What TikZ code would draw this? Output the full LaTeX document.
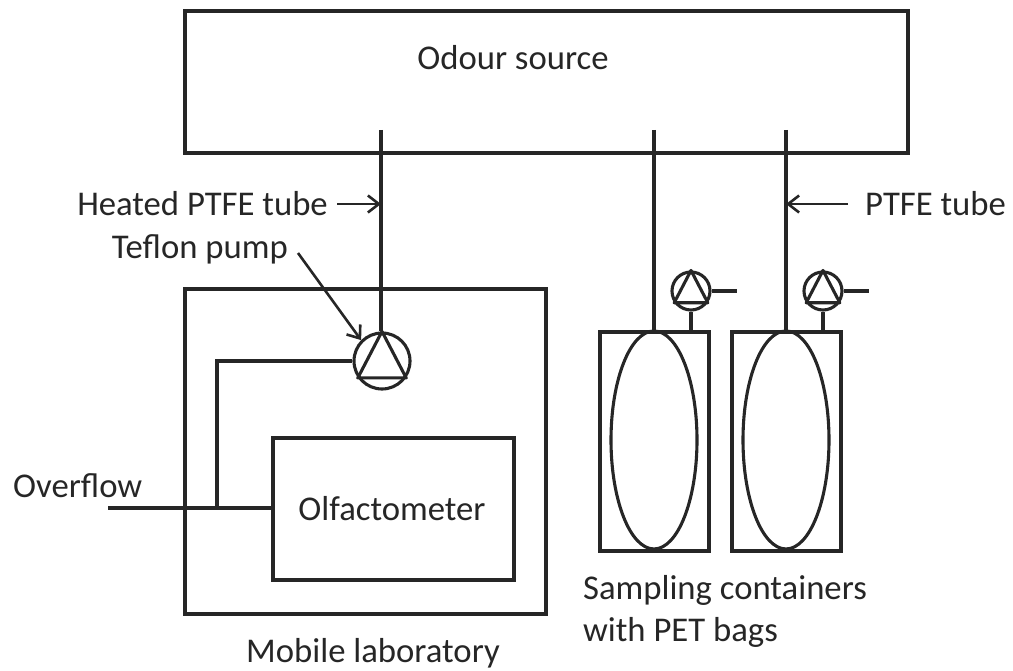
\documentclass[tikz,border=0pt]{standalone}
\usepackage{fontspec}
\setmainfont{Carlito}
\usetikzlibrary{arrows.meta}
\tikzset{
  tube/.style={line width=3.1pt, draw=black!85},
  lead/.style={line width=2.6pt, draw=black!85, -{Straight Barb[length=11pt,width=17pt,line width=2.6pt]}},
  boxnode/.style={line width=3.6pt, draw=black!85, rectangle, inner sep=0pt, anchor=north west},
  pumpnode/.style={tube, circle, inner sep=0pt},
  labelnode/.style={inner sep=0pt, text=black!85, font=\fontsize{34.7}{42}\selectfont},
}
\begin{document}
\begin{tikzpicture}[x=1pt, y=-1pt]
\useasboundingbox (0,0) rectangle (1013,671);
% boxes
\node[boxnode, minimum width=723pt, minimum height=142pt] (source) at (183,9) {};
\node[boxnode, minimum width=361pt, minimum height=325pt] (lab) at (183,287) {};
\node[boxnode, minimum width=241pt, minimum height=142pt] (olf) at (271,436) {};
\node[boxnode, minimum width=109pt, minimum height=219pt] (boxa) at (598,330) {};
\node[boxnode, minimum width=109pt, minimum height=219pt] (boxb) at (730,330) {};
\draw[tube] (654,440) ellipse (43 and 109);
\draw[tube] (786,440) ellipse (43 and 109);
% pumps
\node[pumpnode, minimum size=56pt] (pump) at (382,361) {};
\node[pumpnode, minimum size=38pt] (pumpa) at (691,291) {};
\node[pumpnode, minimum size=38pt] (pumpb) at (823,291) {};
\foreach \p in {pump,pumpa,pumpb}
  \draw[tube, line join=round] (\p.90) -- (\p.215) -- (\p.325) -- cycle;
% free ends
\coordinate (tubetop) at (381,130);
\coordinate (tubea) at (654,130);
\coordinate (tubeb) at (786,130);
\coordinate (enda) at (654,331);
\coordinate (endb) at (786,331);
\coordinate (over) at (108,508);
\coordinate (tee) at (217,508);
\coordinate (outa) at (737,291);
\coordinate (outb) at (869,291);
% tubes
\draw[tube] (tubetop) -- (pump.north -| tubetop);
\draw[tube] (tubea) -- (enda);
\draw[tube] (tubeb) -- (endb);
\draw[tube] (over) -- (olf.west |- over);
\draw[tube] (tee) -- (217,361) -- (pump.west);
\draw[tube] (pumpa.east) -- (outa);
\draw[tube] (pumpb.east) -- (outb);
\draw[tube] (pumpa.south) -- (pumpa.south |- boxa.north);
\draw[tube] (pumpb.south) -- (pumpb.south |- boxb.north);
% labels
\node[labelnode] (odour) at (513,58) {Odour source};
\node[labelnode, anchor=east] (heated) at (328,204) {Heated PTFE tube};
\node[labelnode, anchor=west] (ptfe) at (865,204) {PTFE tube};
\node[labelnode, anchor=east] (teflon) at (288,249) {Teflon pump};
\node[labelnode, anchor=west] (overflow) at (13,486) {Overflow};
\node[labelnode] (olfname) at (392,509) {Olfactometer};
\node[labelnode, align=left] (sampling) at (725,611) {Sampling containers\\with PET bags};
\node[labelnode] (mobile) at (373,653) {Mobile laboratory};
% arrows
\draw[lead] (heated.east) ++(9,0) -- (tubetop |- heated.east);
\draw[lead] (ptfe.west) ++(-17,0) -- (tubeb |- ptfe.west);
\draw[lead] (teflon.east) ++(10,4) -- (pump.135);
\end{tikzpicture}
\end{document}
